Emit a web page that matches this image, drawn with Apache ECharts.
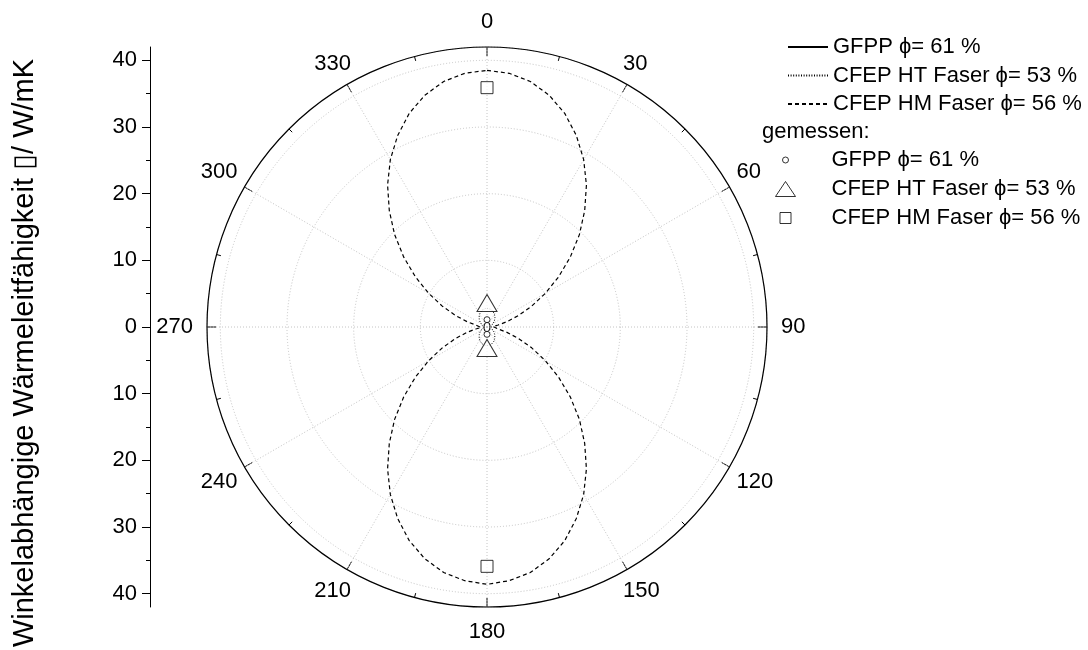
<!DOCTYPE html>
<html><head><meta charset="utf-8">
<script src="https://cdn.jsdelivr.net/npm/echarts@6/dist/echarts.min.js"></script>
<style>html,body{margin:0;padding:0;background:#fff}#c{width:1088px;height:650px}</style>
</head><body><div id="c"></div>
<script>
// ---- data ----
const angles = [0,5,10,15,20,25,30,35,40,45,50,55,60,65,70,75,80,85,90,
  95,100,105,110,115,120,125,130,135,140,145,150,155,160,165,170,175,180,
  185,190,195,200,205,210,215,220,225,230,235,240,245,250,255,260,265,270,
  275,280,285,290,295,300,305,310,315,320,325,330,335,340,345,350,355,360];

const gfppModel = [0.75,0.75,0.74,0.73,0.71,0.69,0.67,0.64,0.61,0.59,0.56,0.53,0.50,0.48,0.46,0.44,0.43,0.42,0.42,
  0.42,0.43,0.44,0.46,0.48,0.50,0.53,0.56,0.59,0.61,0.64,0.67,0.69,0.71,0.73,0.74,0.75,0.75,
  0.75,0.74,0.73,0.71,0.69,0.67,0.64,0.61,0.59,0.56,0.53,0.50,0.48,0.46,0.44,0.43,0.42,0.42,
  0.42,0.43,0.44,0.46,0.48,0.50,0.53,0.56,0.59,0.61,0.64,0.67,0.69,0.71,0.73,0.74,0.75,0.75];

const htModel = [2.80,2.78,2.73,2.65,2.53,2.39,2.23,2.04,1.85,1.65,1.45,1.26,1.08,0.91,0.77,0.65,0.57,0.52,0.50,
  0.52,0.57,0.65,0.77,0.91,1.08,1.26,1.45,1.65,1.85,2.04,2.23,2.39,2.53,2.65,2.73,2.78,2.80,
  2.78,2.73,2.65,2.53,2.39,2.23,2.04,1.85,1.65,1.45,1.26,1.08,0.91,0.77,0.65,0.57,0.52,0.50,
  0.52,0.57,0.65,0.77,0.91,1.08,1.26,1.45,1.65,1.85,2.04,2.23,2.39,2.53,2.65,2.73,2.78,2.80];

const hmModel = [38.5,38.2,37.4,36.0,34.1,31.7,29.0,26.0,22.8,19.6,16.3,13.1,10.1,7.4,5.0,3.1,1.7,0.9,0.6,
  0.9,1.7,3.1,5.0,7.4,10.1,13.1,16.3,19.6,22.8,26.0,29.0,31.7,34.1,36.0,37.4,38.2,38.6,
  38.2,37.4,36.0,34.1,31.7,29.0,26.0,22.8,19.6,16.3,13.1,10.1,7.4,5.0,3.1,1.7,0.9,0.6,
  0.9,1.7,3.1,5.0,7.4,10.1,13.1,16.3,19.6,22.8,26.0,29.0,31.7,34.1,36.0,37.4,38.2,38.5];

const measuredAngles = [0, 180];
const gfppMeasured = [1.1, 1.1];
const htMeasured = [3.6, 3.15];
const hmMeasured = [35.9, 35.9];

const leftTicks = [-40,-30,-20,-10,0,10,20,30,40];
const leftMinorTicks = [-35,-25,-15,-5,5,15,25,35];

const lineNames = ['GFPP ϕ= 61 %', 'CFEP HT Faser ϕ= 53 %', 'CFEP HM Faser ϕ= 56 %'];
const measuredPrefix = 'gemessen: ';
const yTitle = 'Winkelabhängige Wärmeleitfähigkeit ▯/ W/mK';

// ---- chart ----
const FONT = '"Liberation Sans", Arial, sans-serif';
const BLACK = '#000';
const GRIDC = '#c4c4c4';

function polarData(r, a) { return a.map((ang, i) => [r[i], ang]); }

const chart = echarts.init(document.getElementById('c'), null, {renderer: 'canvas'});

const lineStyles = [
  {color: BLACK, width: 1, type: 'solid'},
  {color: BLACK, width: 1, type: [1, 1.6]},
  {color: BLACK, width: 1.2, type: [4, 3]}
];
const modelVals = [gfppModel, htModel, hmModel];
const measVals = [gfppMeasured, htMeasured, hmMeasured];
const symbols = ['circle', 'triangle', 'rect'];
const symbolSizes = [6, [20, 17], 12];
const legendSizes = [[6, 6], [20, 15], [11, 11]];
const legendRowY = [160, 189, 218];

const series = [];
lineNames.forEach((n, i) => {
  series.push({
    name: n, type: 'line', coordinateSystem: 'polar', polarIndex: 0,
    data: polarData(modelVals[i], angles), symbol: 'none',
    lineStyle: lineStyles[i], itemStyle: {color: BLACK}, z: 3, animation: false
  });
});
lineNames.forEach((n, i) => {
  series.push({
    name: measuredPrefix + n, type: 'scatter', coordinateSystem: 'polar', polarIndex: 0,
    data: polarData(measVals[i], measuredAngles), symbol: symbols[i], symbolSize: symbolSizes[i],
    itemStyle: {color: '#fff', borderColor: BLACK, borderWidth: 1}, z: 4, animation: false
  });
});

const textStyle = {fontSize: 22, lineHeight: 22, color: BLACK, fontFamily: FONT};
const legends = [{
  data: lineNames, orient: 'vertical', left: 787, top: 36, itemWidth: 40, itemHeight: 14,
  itemGap: 6.5, selectedMode: false, textStyle: textStyle, padding: 0,
  itemStyle: {opacity: 0, borderWidth: 0}
}];
lineNames.forEach((n, i) => {
  const w = legendSizes[i][0], h = legendSizes[i][1];
  const left = 785 - w / 2;
  legends.push({
    data: [measuredPrefix + n], orient: 'vertical', left: left, top: legendRowY[i] - 11,
    itemWidth: w, itemHeight: h, selectedMode: false, padding: 0,
    itemStyle: {borderWidth: 1, borderColor: BLACK, color: '#fff'},
    formatter: s => s.replace(measuredPrefix, ''),
    textStyle: Object.assign({}, textStyle, {padding: [0, 0, 0, 831 - (left + w + 5)]})
  });
});

const rs = p => ({fontSize: 22, fontFamily: FONT, color: BLACK, padding: p});
const angleRich = {
  c: rs([22, 22, 22, 22]),
  u: rs([0, 0, 17, 0]),
  l: rs([17, 0, 0, 0]),
  s: rs([0, 14, 8, 14]),
  t: rs([8, 14, 0, 14])
};
function angleLabel(v) {
  if (v === 360) return '';
  let k;
  if (v % 90 === 0) k = 'c';
  else if (v === 30 || v === 330) k = 'u';
  else if (v === 150 || v === 210) k = 'l';
  else if (v === 60 || v === 300) k = 's';
  else k = 't';
  return '{' + k + '|' + v + '}';
}

const option = {
  backgroundColor: '#fff',
  animation: false,
  textStyle: {fontFamily: FONT},
  polar: {center: [487, 327], radius: 280},
  angleAxis: {
    type: 'value', min: 0, max: 360, interval: 30, startAngle: 90, clockwise: true,
    axisLine: {lineStyle: {color: BLACK, width: 1.2}},
    axisTick: {show: true, inside: true, length: 9, lineStyle: {color: BLACK, width: 1}},
    minorTick: {show: true, splitNumber: 2, length: 4.5, lineStyle: {color: BLACK, width: 1}},
    axisLabel: {margin: -8, fontSize: 22, color: BLACK, fontFamily: FONT,
      rich: angleRich, formatter: angleLabel},
    splitLine: {show: true, lineStyle: {color: GRIDC, width: 1, type: [1, 2]}}
  },
  radiusAxis: {
    type: 'value', min: 0, max: 42, interval: 10,
    axisLine: {show: false}, axisTick: {show: false}, axisLabel: {show: false},
    splitLine: {show: true, lineStyle: {color: GRIDC, width: 1, type: [1, 2]}}
  },
  grid: {left: 150, top: 47, height: 560, width: 10},
  xAxis: {type: 'value', show: false, min: 0, max: 1},
  yAxis: [{
    type: 'value', min: -42, max: 42, position: 'left',
    axisLine: {show: true, lineStyle: {color: BLACK, width: 1}},
    axisTick: {show: true, length: 8, customValues: leftTicks, lineStyle: {color: BLACK}},
    axisLabel: {show: true, margin: 13, fontSize: 22, color: BLACK, fontFamily: FONT,
      customValues: leftTicks, formatter: v => String(Math.abs(v))},
    splitLine: {show: false}
  }, {
    type: 'value', min: -42, max: 42, position: 'left',
    axisLine: {show: false},
    axisTick: {show: true, length: 4, customValues: leftMinorTicks, lineStyle: {color: BLACK}},
    axisLabel: {show: false}, splitLine: {show: false}
  }],
  legend: legends,
  graphic: [{
    type: 'text', left: 762, top: 121,
    style: {text: 'gemessen:', fontSize: 22, fontFamily: FONT, fill: BLACK}
  }, {
    type: 'text', x: 25, y: 353, rotation: Math.PI / 2,
    style: {text: yTitle, x: 0, y: 0, align: 'center', verticalAlign: 'middle',
      fontSize: 29, fontFamily: FONT, fill: BLACK}
  }],
  series: series
};
chart.setOption(option);
</script>
</body></html>
